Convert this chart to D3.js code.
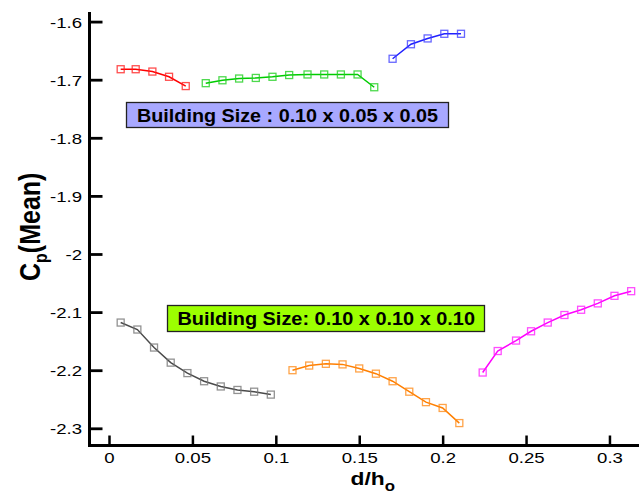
<!DOCTYPE html>
<html><head><meta charset="utf-8">
<script src="https://cdn.jsdelivr.net/npm/d3@7"></script>
<style>body{margin:0;background:#fff;overflow:hidden}</style>
</head><body><svg id="c" width="639" height="492"></svg>
<script>
// ---- data ----
const redX = [0.007, 0.016, 0.026, 0.036, 0.046];
const redY = [-1.682, -1.682, -1.686, -1.695, -1.711];
const greenX = [0.058, 0.068, 0.078, 0.088, 0.098, 0.108, 0.119, 0.129, 0.139, 0.149, 0.159];
const greenY = [-1.706, -1.701, -1.698, -1.697, -1.695, -1.692, -1.691, -1.691, -1.691, -1.691, -1.713];
const blueX = [0.170, 0.181, 0.191, 0.201, 0.211];
const blueY = [-1.664, -1.639, -1.629, -1.621, -1.621];
const grayX = [0.007, 0.017, 0.027, 0.037, 0.047, 0.057, 0.067, 0.077, 0.087, 0.097];
const grayY = [-2.118, -2.130, -2.161, -2.187, -2.205, -2.219, -2.228, -2.234, -2.237, -2.242];
const orangeX = [0.110, 0.120, 0.130, 0.140, 0.150, 0.160, 0.170, 0.180, 0.190, 0.200, 0.210];
const orangeY = [-2.200, -2.192, -2.189, -2.190, -2.197, -2.206, -2.219, -2.237, -2.255, -2.265, -2.291];
const magentaX = [0.224, 0.233, 0.244, 0.253, 0.263, 0.273, 0.283, 0.293, 0.303, 0.313];
const magentaY = [-2.204, -2.167, -2.149, -2.133, -2.118, -2.105, -2.096, -2.085, -2.072, -2.064];

const xMajorTicks = [0, 0.05, 0.1, 0.15, 0.2, 0.25, 0.3];
const xTickLabels = ["0", "0.05", "0.1", "0.15", "0.2", "0.25", "0.3"];
const yMajorTicks = [-1.6, -1.7, -1.8, -1.9, -2.0, -2.1, -2.2, -2.3];
const yTickLabels = ["-1.6", "-1.7", "-1.8", "-1.9", "-2", "-2.1", "-2.2", "-2.3"];
const label1 = "Building Size : 0.10 x 0.05 x 0.05";
const label2 = "Building Size: 0.10 x 0.10 x 0.10";

// ---- layout ----
const svg = d3.select("#c");
const FONT = "'Liberation Sans', Arial, Helvetica, sans-serif";
const x = d3.scaleLinear().domain([-0.01169, 0.3243]).range([89.5, 650]);
const y = d3.scaleLinear().domain([-1.5835, -2.3296]).range([12, 445.5]);

const series = [
  {xs: redX, ys: redY, line: "#ff0000", mark: "#ff2020"},
  {xs: greenX, ys: greenY, line: "#00cc00", mark: "#20d020"},
  {xs: blueX, ys: blueY, line: "#2020ff", mark: "#4040ff"},
  {xs: grayX, ys: grayY, line: "#4a4a4a", mark: "#777777"},
  {xs: orangeX, ys: orangeY, line: "#ff7f00", mark: "#ff8c1a"},
  {xs: magentaX, ys: magentaY, line: "#ff00ff", mark: "#ff20ff"}
];

// minor tick values
const yMinor = d3.range(-116, -79).map(v => v * 0.02).filter(v => Math.abs(Math.round(v * 10) - v * 10) > 1e-6);
const xMinor = d3.range(-1, 33).map(v => v * 0.01).filter(v => v % 0.05 > 1e-6 && 0.05 - (v % 0.05) > 1e-6 || v < 0);

// x axis
const gx = svg.append("g").attr("transform", `translate(0,${y.range()[1]})`);
gx.call(d3.axisBottom(x).tickValues(xMinor).tickSize(-5).tickFormat(""));
gx.call(d3.axisBottom(x).tickValues(xMajorTicks).tickSizeInner(-10).tickSizeOuter(0)
  .tickPadding(0).tickFormat((d, i) => xTickLabels[i]));
gx.selectAll(".domain").remove();
gx.selectAll(".tick line").attr("stroke", "#000");
gx.selectAll(".tick line").filter(function(){ return +d3.select(this).attr("y2") === -10; }).attr("stroke-width", 2.5);
gx.selectAll(".tick line").filter(function(){ return +d3.select(this).attr("y2") === -5; }).attr("stroke-width", 1.3);
gx.selectAll(".tick text").attr("y", 17.5).attr("dy", 0)
  .attr("transform", "scale(1.2,1)")
  .style("font-family", FONT).style("font-size", "15.5px").attr("fill", "#000");
gx.append("line").attr("x1", 88).attr("x2", 650).attr("y1", 0).attr("y2", 0)
  .attr("stroke", "#000").attr("stroke-width", 3);

// y axis
const gy = svg.append("g").attr("transform", `translate(${x.range()[0]},0)`);
gy.call(d3.axisLeft(y).tickValues(yMinor).tickSize(-7).tickFormat(""));
gy.call(d3.axisLeft(y).tickValues(yMajorTicks).tickSizeInner(-13).tickSizeOuter(0)
  .tickPadding(0).tickFormat((d, i) => yTickLabels[i]));
gy.selectAll(".domain").remove();
gy.selectAll(".tick line").attr("stroke", "#000");
gy.selectAll(".tick line").filter(function(){ return +d3.select(this).attr("x2") === 13; }).attr("stroke-width", 2.8);
gy.selectAll(".tick line").filter(function(){ return +d3.select(this).attr("x2") === 7; }).attr("stroke-width", 1.3);
gy.selectAll(".tick text").attr("x", -7.5 / 1.2).attr("dy", "0.35em")
  .attr("transform", "scale(1.2,1)")
  .style("font-family", FONT).style("font-size", "15.5px").attr("fill", "#000");
gy.append("line").attr("x1", 0).attr("x2", 0).attr("y1", y.range()[0]).attr("y2", y.range()[1] + 1)
  .attr("stroke", "#000").attr("stroke-width", 3);

// series
const line = d3.line().x(d => x(d[0])).y(d => y(d[1]));
const plot = svg.append("g");
series.forEach(s => {
  const pts = s.xs.map((v, i) => [v, s.ys[i]]);
  plot.append("path").attr("d", line(pts)).attr("fill", "none")
    .attr("stroke", s.line).attr("stroke-width", 1.5);
  plot.selectAll(null).data(pts).enter().append("rect")
    .attr("x", d => x(d[0]) - 3.5).attr("y", d => y(d[1]) - 3.5)
    .attr("width", 7).attr("height", 7)
    .attr("fill", "none").attr("stroke", s.mark).attr("stroke-width", 1.3).attr("stroke-opacity", 0.8);
});

// annotation boxes
function box(x0, y0, w, h, fill, txt, tx, tbase, tlen) {
  svg.append("rect").attr("x", x0).attr("y", y0).attr("width", w).attr("height", h)
    .attr("fill", fill).attr("stroke", "#222").attr("stroke-width", 1.3);
  svg.append("text").attr("x", tx).attr("y", tbase).text(txt)
    .attr("textLength", tlen).attr("lengthAdjust", "spacingAndGlyphs")
    .style("font-family", FONT).style("font-weight", "bold").style("font-size", "18.5px").attr("fill", "#000");
}
box(126.5, 102.5, 322, 25, "#a8a8ff", label1, 137, 121.5, 301);
box(167.5, 305.5, 317, 26, "#9cff00", label2, 177.5, 324.5, 297.5);

// y title
const yt = svg.append("text").attr("transform", "translate(40,281) scale(1.2,1) rotate(-90)")
  .style("font-family", FONT).style("font-weight", "bold").style("font-size", "25px").attr("fill", "#000");
yt.append("tspan").text("C");
yt.append("tspan").text("p").style("font-size", "16px").attr("dy", 6);
yt.append("tspan").text("(Mean)").attr("dy", -6);

// x title
const xt = svg.append("text").attr("transform", "translate(350.5,484.5) scale(1.2,1)")
  .style("font-family", FONT).style("font-weight", "bold").style("font-size", "19px").attr("fill", "#000");
xt.append("tspan").text("d/h");
xt.append("tspan").text("o").style("font-size", "14px").attr("dy", 6);
</script></body></html>
